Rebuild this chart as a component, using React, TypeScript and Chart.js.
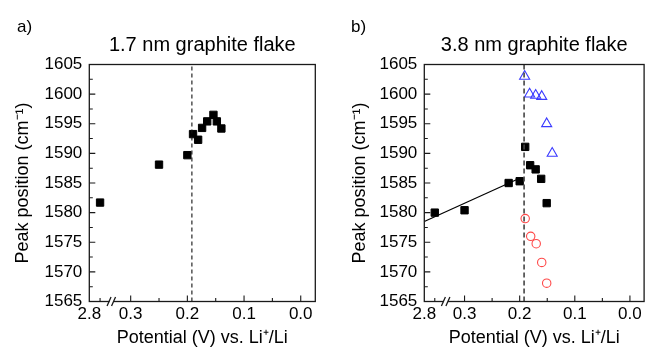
import React, { useEffect, useRef } from 'react';
import { Chart, registerables } from 'chart.js';
Chart.register(...registerables);

const FONT = "'Liberation Sans', Arial, Helvetica, sans-serif";

// ---- broken x axis (2.8 V placed left of the break) ----
const X_LEFT = 0.373;
const X_RIGHT = -0.0257;
const BREAK_POS = 0.354; // where the 2.8 V value sits
const BREAK_MARK = 0.332; // where the "//" is drawn
const xTickValues = [X_LEFT, 0.3, 0.2, 0.1, 0.0];
const xTickLabels = ['2.8', '0.3', '0.2', '0.1', '0.0'];
const xMajorMarks = [0.3, 0.2, 0.1, 0.0];
const xMinorMarks = [BREAK_POS, 0.25, 0.15, 0.05];
const Y_MIN = 1565;
const Y_MAX = 1605;
const Y_STEP = 5;
const yMajorMarks = [1570, 1575, 1580, 1585, 1590, 1595, 1600];
const yMinorMarks = [1567.5, 1572.5, 1577.5, 1582.5, 1587.5, 1592.5, 1597.5, 1602.5];

// ---- panel a: 1.7 nm flake ----
const potA = [2.8, 0.25, 0.2, 0.19, 0.181, 0.174, 0.165, 0.154, 0.148, 0.14];
const peakA = [1581.7, 1588.1, 1589.7, 1593.25, 1592.3, 1594.3, 1595.4, 1596.5, 1595.4, 1594.2];

// ---- panel b: 3.8 nm flake ----
const potB = [2.8, 0.3, 0.22, 0.2, 0.19, 0.181, 0.171, 0.161, 0.151];
const peakB = [1580.0, 1580.4, 1585.0, 1585.3, 1591.1, 1588.0, 1587.3, 1585.7, 1581.6];
const potTri = [0.191, 0.182, 0.171, 0.16, 0.151, 0.141];
const peakTri = [1603.0, 1600.0, 1599.8, 1599.6, 1595.0, 1590.0];
const potCirc = [0.19, 0.18, 0.17, 0.16, 0.151];
const peakCirc = [1579.0, 1576.0, 1574.75, 1571.6, 1568.1];
const fitPot = [X_LEFT, 0.2];
const fitPeak = [1578.5, 1585.8];

// ---- stage potential (dashed line) ----
const stagePot = 0.192;

const mapX = (v: number) => (v > 1 ? BREAK_POS : v);
const pts = (xs: number[], ys: number[]) => xs.map((x, i) => ({ x: mapX(x), y: ys[i] }));

function framePlugin(label: string) {
  return {
    id: 'frame',
    afterDraw(chart: any) {
      const { ctx, chartArea } = chart;
      const { left, right, top, bottom } = chartArea;
      const xs = chart.scales.x;
      const ys = chart.scales.y;
      ctx.save();
      ctx.strokeStyle = '#1a1a1a';
      ctx.lineWidth = 1.3;
      ctx.strokeRect(left, top, right - left, bottom - top);
      ctx.lineWidth = 1.1;
      ctx.beginPath();
      xMajorMarks.forEach((v) => {
        const p = xs.getPixelForValue(v);
        ctx.moveTo(p, bottom);
        ctx.lineTo(p, bottom - 6);
      });
      xMinorMarks.forEach((v) => {
        const p = xs.getPixelForValue(v);
        ctx.moveTo(p, bottom);
        ctx.lineTo(p, bottom - 3.5);
      });
      yMajorMarks.forEach((v) => {
        const p = ys.getPixelForValue(v);
        ctx.moveTo(left, p);
        ctx.lineTo(left + 6, p);
      });
      yMinorMarks.forEach((v) => {
        const p = ys.getPixelForValue(v);
        ctx.moveTo(left, p);
        ctx.lineTo(left + 3.5, p);
      });
      ctx.stroke();
      // axis break "//"
      const bx = xs.getPixelForValue(BREAK_MARK);
      ctx.fillStyle = '#fff';
      ctx.fillRect(bx - 3, bottom - 1.5, 4, 3);
      ctx.lineWidth = 1.3;
      ctx.beginPath();
      ctx.moveTo(bx - 5.5, bottom + 4.5);
      ctx.lineTo(bx - 1.5, bottom - 4.5);
      ctx.moveTo(bx - 1, bottom + 4.5);
      ctx.lineTo(bx + 3, bottom - 4.5);
      ctx.stroke();
      // panel label
      ctx.fillStyle = '#000';
      ctx.font = `17px ${FONT}`;
      ctx.textBaseline = 'alphabetic';
      ctx.textAlign = 'left';
      ctx.fillText(label, label === 'a)' ? 17 : 26, 31.5);
      ctx.restore();
    },
  };
}

function makeOptions(title: string, yAxisWidth: number, yTitlePad: number, rightPad: number): any {
  return {
    responsive: false,
    animation: false,
    layout: { padding: { left: 0, right: rightPad, top: 0, bottom: 0 } },
    plugins: {
      legend: { display: false },
      tooltip: { enabled: false },
      title: {
        display: true,
        text: title,
        fullSize: false,
        color: '#000',
        font: { family: FONT, size: 20, weight: 'normal' },
        padding: { top: 33.5, bottom: 7 },
      },
    },
    scales: {
      x: {
        type: 'linear',
        reverse: true,
        min: X_RIGHT,
        max: X_LEFT,
        grid: { display: false, drawTicks: false },
        border: { display: false },
        afterBuildTicks: (s: any) => {
          s.ticks = xTickValues.map((v) => ({ value: v }));
        },
        afterFit: (s: any) => {
          s.height = 47.5;
        },
        ticks: {
          autoSkip: false,
          maxRotation: 0,
          padding: 3,
          color: '#000',
          font: { family: FONT, size: 17 },
          callback: (v: number) => {
            const i = xTickValues.findIndex((t) => Math.abs(t - v) < 1e-6);
            return i >= 0 ? xTickLabels[i] : '';
          },
        },
        title: {
          display: true,
          text: 'Potential (V) vs. Li\u207A/Li',
          color: '#000',
          font: { family: FONT, size: 18 },
          padding: { top: 0, bottom: 0 },
        },
      },
      y: {
        type: 'linear',
        min: Y_MIN,
        max: Y_MAX,
        grid: { display: false, drawTicks: false },
        border: { display: false },
        afterFit: (s: any) => {
          s.width = yAxisWidth;
        },
        ticks: {
          stepSize: Y_STEP,
          padding: 7,
          color: '#000',
          font: { family: FONT, size: 17 },
          callback: (v: number) => String(v),
        },
        title: {
          display: true,
          text: 'Peak position (cm\u207B\u00B9)',
          color: '#000',
          font: { family: FONT, size: 18 },
          padding: { top: yTitlePad, bottom: 0 },
        },
      },
    },
  };
}

function dashedLine(color: string, width: number, dash: number[]) {
  return {
    type: 'line',
    data: [
      { x: stagePot, y: Y_MIN },
      { x: stagePot, y: Y_MAX },
    ],
    borderColor: color,
    borderWidth: width,
    borderDash: dash,
    pointRadius: 0,
    showLine: true,
    fill: false,
  };
}

export default function App() {
  const refA = useRef<HTMLCanvasElement>(null);
  const refB = useRef<HTMLCanvasElement>(null);

  useEffect(() => {
    const chartA = new Chart(refA.current as HTMLCanvasElement, {
      type: 'scatter',
      data: {
        datasets: [
          dashedLine('#111', 1.1, [4, 3]) as any,
          {
            data: pts(potA, peakA),
            pointStyle: 'rect',
            pointRadius: 5.2,
            backgroundColor: '#000',
            borderColor: '#000',
            borderWidth: 1,
          },
        ],
      },
      options: makeOptions('1.7 nm graphite flake', 89.3, 11.8, 9.7),
      plugins: [framePlugin('a)')],
    });
    const chartB = new Chart(refB.current as HTMLCanvasElement, {
      type: 'scatter',
      data: {
        datasets: [
          dashedLine('#444', 1.6, [5, 3]) as any,
          {
            type: 'line',
            data: pts(fitPot, fitPeak),
            borderColor: '#000',
            borderWidth: 1.2,
            pointRadius: 0,
            showLine: true,
            fill: false,
          } as any,
          {
            data: pts(potB, peakB),
            pointStyle: 'rect',
            pointRadius: 5.2,
            backgroundColor: '#000',
            borderColor: '#000',
            borderWidth: 1,
          },
          {
            data: pts(potTri, peakTri),
            pointStyle: 'triangle',
            pointRadius: 5.8,
            backgroundColor: 'rgba(0,0,0,0)',
            borderColor: '#3a3aff',
            borderWidth: 1.1,
          },
          {
            data: pts(potCirc, peakCirc),
            pointStyle: 'circle',
            pointRadius: 4.2,
            backgroundColor: 'rgba(0,0,0,0)',
            borderColor: '#ff4848',
            borderWidth: 1.1,
          },
        ],
      },
      options: makeOptions('3.8 nm graphite flake', 99.3, 23.8, 0.7),
      plugins: [framePlugin('b)')],
    });
    return () => {
      chartA.destroy();
      chartB.destroy();
    };
  }, []);

  return (
    <div style={{ position: 'absolute', left: 0, top: 0, width: 651, height: 349, background: '#fff' }}>
      <canvas ref={refA} width={325} height={349} style={{ position: 'absolute', left: 0, top: 0, width: 325, height: 349 }} />
      <canvas ref={refB} width={326} height={349} style={{ position: 'absolute', left: 325, top: 0, width: 326, height: 349 }} />
    </div>
  );
}
